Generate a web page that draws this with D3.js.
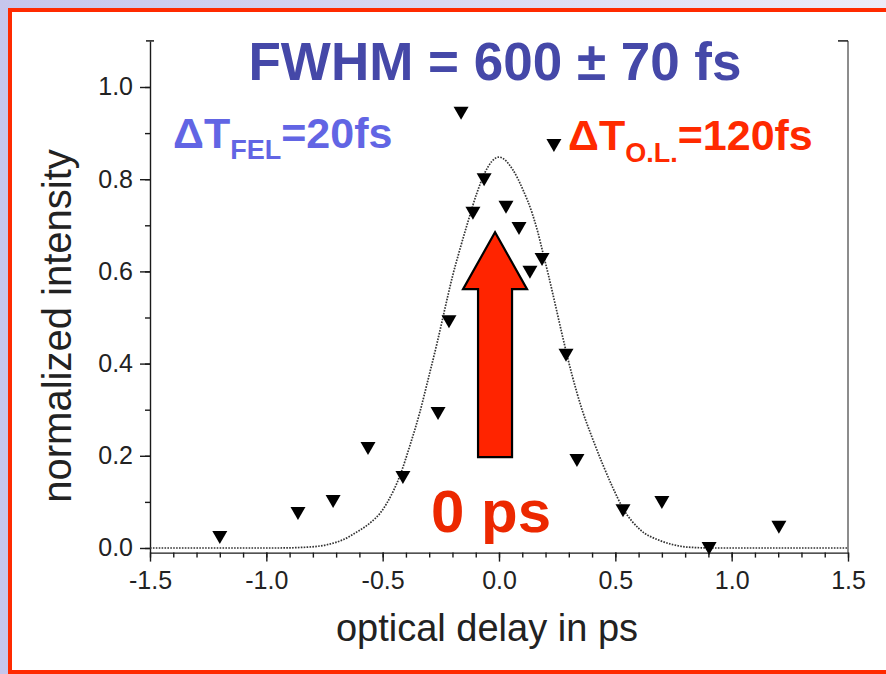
<!DOCTYPE html>
<html><head><meta charset="utf-8">
<script src="https://cdn.jsdelivr.net/npm/d3@7"></script>
<style>html,body{margin:0;padding:0;overflow:hidden;background:#fff}</style>
</head><body>
<svg id="chart" width="886" height="674"></svg>
<script>
// ---- data ----
const delayPs = [-1.2, -0.864, -0.713, -0.563, -0.413, -0.262, -0.215, -0.163, -0.112, -0.064, 0.03, 0.086, 0.133, 0.185, 0.236, 0.288, 0.335, 0.533, 0.70, 0.903, 1.203];
const intensity = [0.024, 0.076, 0.102, 0.217, 0.154, 0.293, 0.492, 0.944, 0.727, 0.800, 0.740, 0.694, 0.599, 0.627, 0.874, 0.419, 0.191, 0.082, 0.100, 0.0, 0.046];
const fitX = [-1.5, -0.95, -0.82, -0.74, -0.67, -0.61, -0.55, -0.51, -0.48, -0.425, -0.383, -0.34, -0.305, -0.266, -0.223, -0.198, -0.168, -0.138, -0.095, -0.06, 0.0, 0.06, 0.103, 0.142, 0.168, 0.189, 0.211, 0.241, 0.275, 0.314, 0.357, 0.4, 0.447, 0.49, 0.533, 0.606, 0.692, 0.75, 0.808, 0.92, 1.5];
const fitY = [0, 0, 0.002, 0.007, 0.018, 0.035, 0.056, 0.076, 0.099, 0.158, 0.222, 0.295, 0.365, 0.445, 0.540, 0.593, 0.648, 0.700, 0.770, 0.815, 0.848, 0.820, 0.777, 0.727, 0.683, 0.640, 0.595, 0.530, 0.455, 0.375, 0.300, 0.240, 0.180, 0.130, 0.086, 0.040, 0.016, 0.007, 0.002, 0, 0];
const xTicks = [-1.5, -1.0, -0.5, 0.0, 0.5, 1.0, 1.5];
const yTicks = [0.0, 0.2, 0.4, 0.6, 0.8, 1.0];
const titleText = "FWHM = 600 ± 70 fs";
const xLabel = "optical delay in ps";
const yLabel = "normalized intensity";
const arrowAt = {x: -0.017, from: 0.197, to: 0.685};

// ---- drawing ----
const svg = d3.select("#chart");
const FONT = "'Liberation Sans', Arial, Helvetica, sans-serif";

const defs = svg.append("defs");
const grad = defs.append("linearGradient").attr("id", "bg").attr("x1", "0").attr("x2", "1").attr("y1", "0").attr("y2", "0");
grad.append("stop").attr("offset", "0").attr("stop-color", "#c6c6ec");
grad.append("stop").attr("offset", "1").attr("stop-color", "#ececf8");
svg.append("rect").attr("width", 886).attr("height", 674).attr("fill", "url(#bg)");
svg.append("rect").attr("x", 10).attr("y", 10).attr("width", 900).attr("height", 662)
  .attr("fill", "#fff").attr("stroke", "#ff2a00").attr("stroke-width", 4);

const x = d3.scaleLinear().domain([-1.5, 1.5]).range([150, 848]);
const y = d3.scaleLinear().domain([-0.01, 1.1]).range([552.6, 40.9]);

const axisColor = "#1a1a1a";
// bottom axis: minor ticks
const minorX = d3.range(-15, 16).map(d => d / 10);
svg.append("g").attr("transform", `translate(0,${y(-0.01)})`)
  .call(d3.axisBottom(x).tickValues(minorX).tickSize(5).tickFormat(""))
  .call(g => g.select(".domain").remove());
svg.append("g").attr("transform", `translate(0,${y(-0.01)})`)
  .call(d3.axisBottom(x).tickValues(xTicks).tickSize(9).tickSizeOuter(0).tickPadding(10))
  .call(g => g.selectAll("text").attr("font-size", 25).attr("font-family", FONT).attr("fill", "#222").text(d => d3.format(".1f")(d).replace("\u2212", "-")));
// left axis
const minorY = d3.range(0, 11).map(d => d / 10);
svg.append("g").attr("transform", `translate(${x(-1.5)},0)`)
  .call(d3.axisLeft(y).tickValues(minorY).tickSize(5).tickFormat(""))
  .call(g => g.select(".domain").remove());
svg.append("g").attr("transform", `translate(${x(-1.5)},0)`)
  .call(d3.axisLeft(y).tickValues(yTicks).tickSize(10).tickSizeOuter(0).tickPadding(7).tickFormat(d3.format(".1f")))
  .call(g => g.selectAll("text").attr("font-size", 25).attr("font-family", FONT).attr("fill", "#222"));
// right axis line
svg.append("line").attr("x1", x(1.5)).attr("x2", x(1.5)).attr("y1", y(1.1)).attr("y2", y(-0.01)).attr("stroke", axisColor);
// top caps
svg.append("line").attr("x1", x(-1.5) - 4).attr("x2", x(-1.5) + 4).attr("y1", y(1.1)).attr("y2", y(1.1)).attr("stroke", axisColor).attr("stroke-width", 1.5);
svg.append("line").attr("x1", x(1.5) - 10).attr("x2", x(1.5)).attr("y1", y(1.1)).attr("y2", y(1.1)).attr("stroke", axisColor).attr("stroke-width", 1.5);
svg.selectAll(".tick line, .domain").attr("stroke", axisColor).attr("stroke-width", 1.4);

// axis titles
svg.append("text").attr("x", 487).attr("y", 641).attr("text-anchor", "middle")
  .attr("font-family", FONT).attr("font-size", 38).attr("fill", "#222").text(xLabel);
svg.append("text").attr("transform", "translate(71,326) rotate(-90)").attr("text-anchor", "middle")
  .attr("font-family", FONT).attr("font-size", 40).attr("fill", "#222").text(yLabel);

// fit curve (dotted)
const line = d3.line().x(d => x(d[0])).y(d => y(d[1])).curve(d3.curveMonotoneX);
svg.append("path").datum(fitX.map((v, i) => [v, fitY[i]]))
  .attr("d", line).attr("fill", "none").attr("stroke", "#333").attr("stroke-width", 1.7).attr("stroke-dasharray", "1.6,1.3");

// data markers: downward triangles
svg.append("g").selectAll("path").data(delayPs.map((v, i) => [v, intensity[i]])).join("path")
  .attr("transform", d => `translate(${x(d[0])},${y(d[1])})`)
  .attr("d", "M-7.5,-6L7.5,-6L0,7Z").attr("fill", "#000");

// red arrow
const ax = x(arrowAt.x), ay0 = y(arrowAt.from), ay1 = y(arrowAt.to);
const headBase = ay1 + 57;
svg.append("path")
  .attr("d", `M${ax - 17},${ay0}L${ax - 17},${headBase}L${ax - 32},${headBase}L${ax},${ay1}L${ax + 32},${headBase}L${ax + 17},${headBase}L${ax + 17},${ay0}Z`)
  .attr("fill", "#ff2400").attr("stroke", "#000").attr("stroke-width", 2.2).attr("stroke-linejoin", "miter");

// texts
svg.append("text").attr("x", 495).attr("y", 80).attr("text-anchor", "middle")
  .attr("font-family", FONT).attr("font-weight", "bold").attr("font-size", 53).attr("fill", "#4548a8").text(titleText);

const t1 = svg.append("text").attr("x", 173).attr("y", 148).attr("font-family", FONT).attr("font-weight", "bold").attr("fill", "#6265e4");
t1.append("tspan").attr("font-size", 43).text("ΔT");
t1.append("tspan").attr("font-size", 27).attr("dy", 11).text("FEL");
t1.append("tspan").attr("font-size", 43).attr("dy", -11).text("=20fs");

const t2 = svg.append("text").attr("x", 568).attr("y", 150).attr("font-family", FONT).attr("font-weight", "bold").attr("fill", "#ff2a00");
t2.append("tspan").attr("font-size", 43).text("ΔT");
t2.append("tspan").attr("font-size", 27).attr("dy", 12).text("O.L.");
t2.append("tspan").attr("font-size", 43).attr("dy", -12).text("=120fs");

svg.append("text").attr("x", 431).attr("y", 532).attr("font-family", FONT).attr("font-weight", "bold")
  .attr("font-size", 60).attr("fill", "#ec2800").text("0 ps");
</script>
</body></html>
